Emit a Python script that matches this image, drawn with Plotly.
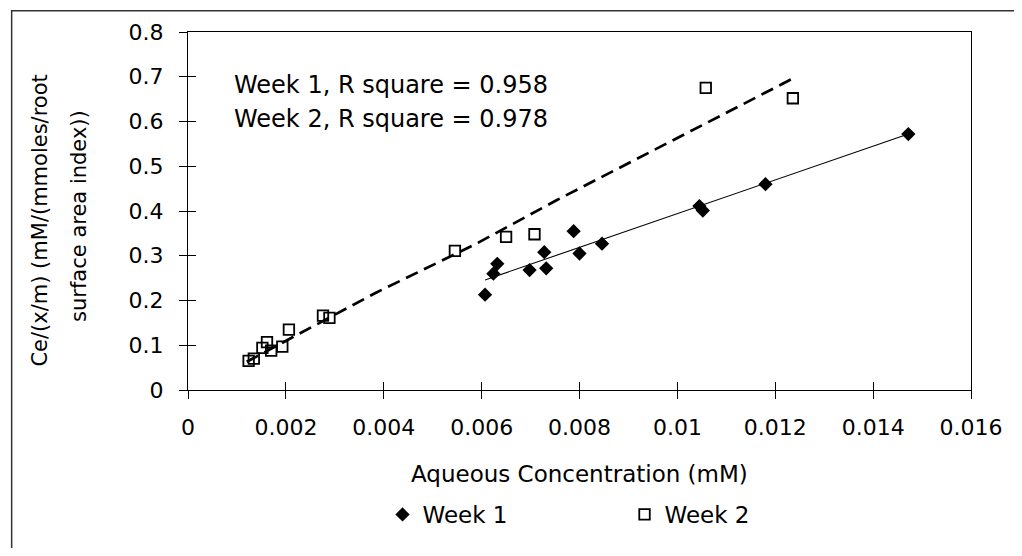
import plotly.graph_objects as go

# ---- data ----
week1_x = [0.00607, 0.00624, 0.00632, 0.00698, 0.00728, 0.00732, 0.00788,
           0.00800, 0.00846, 0.01045, 0.01052, 0.01180, 0.01472]
week1_y = [0.213, 0.260, 0.282, 0.268, 0.308, 0.272, 0.355,
           0.305, 0.327, 0.411, 0.401, 0.460, 0.572]

week2_x = [0.001239, 0.001345, 0.00152, 0.001614, 0.00170, 0.001927, 0.002062,
           0.002758, 0.00289, 0.005454, 0.00650, 0.00708, 0.01058, 0.01236]
week2_y = [0.065, 0.070, 0.094, 0.107, 0.088, 0.097, 0.135,
           0.166, 0.161, 0.311, 0.342, 0.348, 0.675, 0.652]

trend1_x = [0.00607, 0.01472]
trend1_y = [0.246, 0.572]

trend2_x = [0.00120, 0.00385, 0.00586, 0.00753, 0.01234]
trend2_y = [0.063, 0.218, 0.325, 0.424, 0.695]

x_ticks = [0, 0.002, 0.004, 0.006, 0.008, 0.01, 0.012, 0.014, 0.016]
x_ticktext = ["0", "0.002", "0.004", "0.006", "0.008", "0.01", "0.012", "0.014", "0.016"]
y_ticks = [0, 0.1, 0.2, 0.3, 0.4, 0.5, 0.6, 0.7, 0.8]
y_ticktext = ["0", "0.1", "0.2", "0.3", "0.4", "0.5", "0.6", "0.7", "0.8"]

annot_lines = ["Week 1, R square = 0.958", "Week 2, R square = 0.978"]
y_title_lines = ["Ce/(x/m) (mM/(mmoles/root", "surface area index))"]
x_title = "Aqueous Concentration (mM)"

FONT = "DejaVu Sans, Liberation Sans, Arial, sans-serif"
OFF = 8  # default page margin of the html body
W, H = 1006, 540
L, R, T, B = 180, 29, 22, 157
pw, ph = W - L - R, H - T - B


def px_x(p):
    """page pixel x -> paper coordinate"""
    return (p - OFF - L) / pw


def px_y(p):
    """page pixel y -> paper coordinate"""
    return (H - B - (p - OFF)) / ph


fig = go.Figure()

fig.add_trace(go.Scatter(x=trend2_x, y=trend2_y, mode="lines",
                         line=dict(color="black", width=2.7, dash="13px,7px"),
                         showlegend=False, hoverinfo="skip"))
fig.add_trace(go.Scatter(x=trend1_x, y=trend1_y, mode="lines",
                         line=dict(color="black", width=1.1),
                         showlegend=False, hoverinfo="skip"))
fig.add_trace(go.Scatter(x=week1_x, y=week1_y, mode="markers", name="Week 1",
                         marker=dict(symbol="diamond", size=11, color="black",
                                     line=dict(width=0))))
fig.add_trace(go.Scatter(x=week2_x, y=week2_y, mode="markers", name="Week 2",
                         marker=dict(symbol="square-open", size=10.5, color="black",
                                     line=dict(width=1.8))))
# overlay axes for the inner half of the crossing ticks
fig.add_trace(go.Scatter(x=[None], y=[None], xaxis="x2", yaxis="y2",
                         showlegend=False, hoverinfo="skip"))

axis_common = dict(showgrid=False, zeroline=False, linecolor="black", linewidth=1.3,
                   tickcolor="black", tickwidth=1, ticklen=8)

fig.update_layout(
    width=W, height=H,
    margin=dict(l=L, r=R, t=T, b=B),
    paper_bgcolor="white", plot_bgcolor="white",
    font=dict(family=FONT, size=22, color="black"),
    xaxis=dict(range=[0, 0.016], tickvals=x_ticks, ticktext=x_ticktext,
               ticks="outside", showline=True, mirror=True,
               ticklabelstandoff=9, ticklabeloverflow="allow", **axis_common),
    yaxis=dict(range=[0, 0.8], tickvals=y_ticks, ticktext=y_ticktext,
               ticks="outside", showline=True, mirror=True,
               ticklabelstandoff=11, ticklabeloverflow="allow", **axis_common),
    xaxis2=dict(range=[0, 0.016], tickvals=x_ticks, overlaying="x", side="bottom",
                anchor="y", ticks="inside", showticklabels=False, showline=False,
                showgrid=False, zeroline=False, tickcolor="black", tickwidth=1, ticklen=8),
    yaxis2=dict(range=[0, 0.8], tickvals=y_ticks, overlaying="y", side="left",
                anchor="x", ticks="inside", showticklabels=False, showline=False,
                showgrid=False, zeroline=False, tickcolor="black", tickwidth=1, ticklen=8),
    showlegend=True,
    legend=dict(orientation="h", x=px_x(386), y=px_y(516.5), xanchor="left",
                yanchor="middle", font=dict(size=23), entrywidth=197,
                bgcolor="rgba(0,0,0,0)"),
)

fig.add_annotation(text=annot_lines[0], xref="paper", yref="paper",
                   x=px_x(233), y=px_y(83.5), xanchor="left", yanchor="middle",
                   showarrow=False, font=dict(size=24))
fig.add_annotation(text=annot_lines[1], xref="paper", yref="paper",
                   x=px_x(233), y=px_y(117.5), xanchor="left", yanchor="middle",
                   showarrow=False, font=dict(size=24))
fig.add_annotation(text=y_title_lines[0], xref="paper", yref="paper",
                   x=px_x(37.5), y=px_y(220), xanchor="center", yanchor="middle",
                   textangle=-90, showarrow=False, font=dict(size=21))
fig.add_annotation(text=y_title_lines[1], xref="paper", yref="paper",
                   x=px_x(77), y=px_y(215.5), xanchor="center", yanchor="middle",
                   textangle=-90, showarrow=False, font=dict(size=21))
fig.add_annotation(text=x_title, xref="paper", yref="paper",
                   x=0.5, y=px_y(476), xanchor="center", yanchor="middle",
                   showarrow=False, font=dict(size=23))

# outer chart frame (only its top and left edges fall inside the picture)
fig.add_shape(type="rect", xref="paper", yref="paper",
              x0=px_x(8.5), x1=px_x(1060), y0=px_y(600), y1=px_y(8.5),
              line=dict(color="#333333", width=1.5), fillcolor="rgba(0,0,0,0)",
              layer="below")

fig.write_html("out.html")
